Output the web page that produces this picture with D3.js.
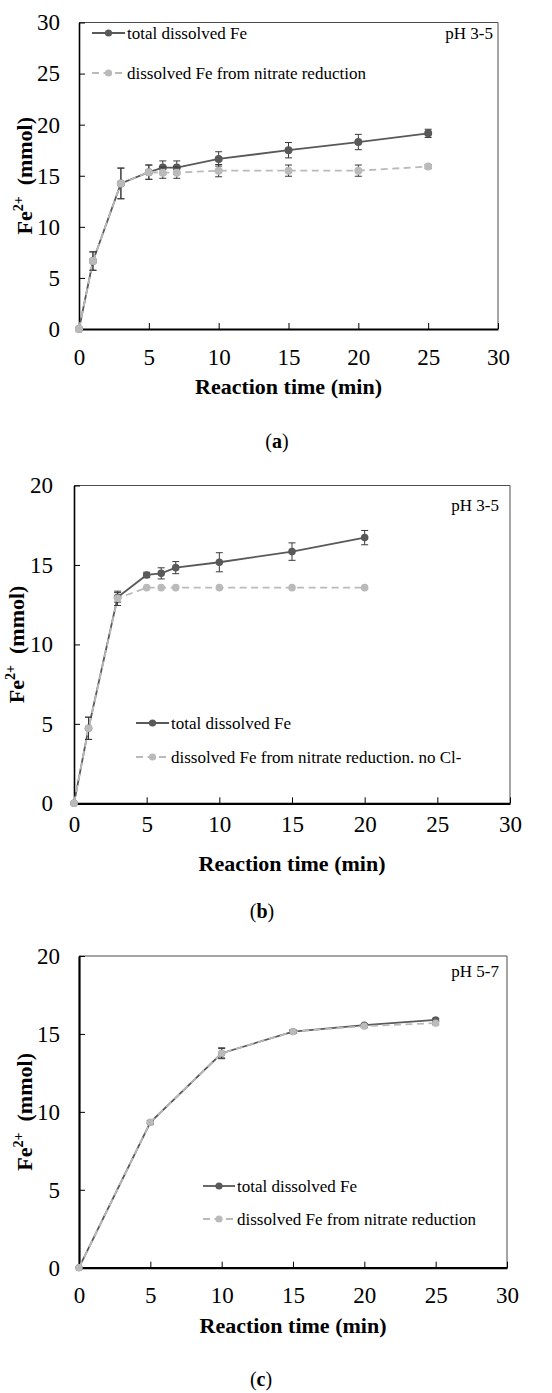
<!DOCTYPE html>
<html>
<head>
<meta charset="utf-8">
<script src="https://cdn.jsdelivr.net/npm/d3@7"></script>
<style>
html,body{margin:0;padding:0;background:#fff;}
svg, svg text{font-family:"Liberation Serif","Times New Roman",serif !important;}
</style>
</head>
<body>
<svg id="chart" width="552" height="1393"></svg>
<script>
// ---------------- data ----------------
const xTicks = [0, 5, 10, 15, 20, 25, 30];
const yTicksA = [0, 5, 10, 15, 20, 25, 30];
const yTicksBC = [0, 5, 10, 15, 20];

const timeA = [0, 1, 3, 5, 6, 7, 10, 15, 20, 25];
const totalA = [0, 6.65, 14.25, 15.35, 15.8, 15.8, 16.65, 17.5, 18.3, 19.15];
const totalErrA = [0, 0.9, 1.5, 0.7, 0.65, 0.65, 0.7, 0.75, 0.75, 0.4];
const nitrateA = [0, 6.65, 14.25, 15.35, 15.3, 15.3, 15.5, 15.5, 15.5, 15.9];
const nitrateErrA = [0, 0.9, 1.5, 0.7, 0.55, 0.55, 0.6, 0.55, 0.55, 0.2];

const timeB = [0, 1, 3, 5, 6, 7, 10, 15, 20];
const totalB = [0, 4.72, 12.96, 14.37, 14.47, 14.83, 15.17, 15.84, 16.72];
const totalErrB = [0, 0.7, 0.3, 0.17, 0.35, 0.38, 0.6, 0.55, 0.45];
const nitrateB = [0, 4.72, 12.9, 13.57, 13.57, 13.57, 13.57, 13.57, 13.57];
const nitrateErrB = [0, 0.7, 0.45, 0, 0, 0, 0, 0, 0];

const timeC = [0, 5, 10, 15, 20, 25];
const totalC = [0, 9.33, 13.76, 15.15, 15.56, 15.9];
const totalErrC = [0, 0.1, 0.35, 0.1, 0.1, 0.1];
const nitrateC = [0, 9.33, 13.76, 15.15, 15.5, 15.69];
const nitrateErrC = [0, 0.1, 0.3, 0.1, 0.1, 0.1];

const legendTotal = "total dissolved Fe";
const legendNitrate = "dissolved Fe from nitrate reduction";
const legendNitrateB = "dissolved Fe from nitrate reduction. no Cl-";
const phLabels = ["pH 3-5", "pH 3-5", "pH 5-7"];
const captionLetters = ["a", "b", "c"];
const xTitle = "Reaction time (min)";

// ---------------- layout ----------------
const panels = [
  {time: timeA, total: totalA, totalErr: totalErrA, nitrate: nitrateA, nitrateErr: nitrateErrA,
   yTicks: yTicksA, ymax: 30, left: 79, right: 498, top: 22.5, bottom: 329,
   yPad: 19, xPad: 20, xTitleY: 394, yTitleX: 32, r: 4, axisW: 1.6,
   leg: {x1: 92, x2: 125, rows: [33, 73], second: legendNitrate},
   ph: {x: 493, y: 39, t: phLabels[0]}, cap: {x: 277, y: 448, t: captionLetters[0]}},
  {time: timeB, total: totalB, totalErr: totalErrB, nitrate: nitrateB, nitrateErr: nitrateErrB,
   yTicks: yTicksBC, ymax: 20, left: 74, right: 510, top: 485.5, bottom: 803.3,
   yPad: 21, xPad: 12.5, xTitleY: 871, yTitleX: 24, r: 3.8, axisW: 1.6,
   leg: {x1: 136, x2: 169, rows: [723, 757], second: legendNitrateB},
   ph: {x: 499, y: 511, t: phLabels[1]}, cap: {x: 262, y: 918, t: captionLetters[1]}},
  {time: timeC, total: totalC, totalErr: totalErrC, nitrate: nitrateC, nitrateErr: nitrateErrC,
   yTicks: yTicksBC, ymax: 20, left: 79, right: 507, top: 956, bottom: 1267.7,
   yPad: 19, xPad: 19, xTitleY: 1333, yTitleX: 32, r: 3.6, axisW: 2.2,
   leg: {x1: 203, x2: 235, rows: [1186, 1219], second: legendNitrate},
   ph: {x: 499, y: 977, t: phLabels[2]}, cap: {x: 261, y: 1386, t: captionLetters[2]}}
];

const DARK = "#595959", LIGHT = "#bababa", ERR = "#3a3a3a";
const FONT = '"Liberation Serif", "Times New Roman", serif';
const svg = d3.select("#chart");

panels.forEach(p => {
  const x = d3.scaleLinear().domain([0, 30]).range([p.left, p.right]);
  const y = d3.scaleLinear().domain([0, p.ymax]).range([p.bottom, p.top]);
  const g = svg.append("g").style("font-family", FONT);

  // frame (top/right)
  g.append("path")
    .attr("d", `M${p.left},${p.top}H${p.right}V${p.bottom}`)
    .attr("fill", "none").attr("stroke", "#4d4d4d").attr("stroke-width", 1);

  // y axis
  const ya = g.append("g").attr("transform", `translate(${p.left},0)`)
    .call(d3.axisLeft(y).tickValues(p.yTicks).tickSizeInner(-6).tickSizeOuter(0).tickPadding(p.yPad));
  ya.attr("font-family", null).style("font-family", FONT);
  ya.select(".domain").attr("stroke", "#000").attr("stroke-width", p.axisW);
  ya.selectAll(".tick line").attr("stroke", "#000").attr("stroke-width", 1);
  ya.selectAll(".tick text").attr("font-size", 23).attr("fill", "#000").style("font-family", FONT);

  // x axis
  const xa = g.append("g").attr("transform", `translate(0,${p.bottom})`)
    .call(d3.axisBottom(x).tickValues(xTicks).tickSizeInner(-6).tickSizeOuter(0).tickPadding(p.xPad));
  xa.attr("font-family", null).style("font-family", FONT);
  xa.select(".domain").attr("stroke", "#000").attr("stroke-width", 2.2);
  xa.selectAll(".tick line").attr("stroke", "#000").attr("stroke-width", 1);
  xa.selectAll(".tick text").attr("font-size", 23).attr("fill", "#000").style("font-family", FONT);

  // axis titles
  g.append("text").attr("x", (p.left + p.right) / 2).attr("y", p.xTitleY)
    .attr("text-anchor", "middle").attr("font-size", 22).attr("font-weight", "bold")
    .style("font-family", FONT).text(xTitle);
  const yt = g.append("text")
    .attr("transform", `translate(${p.yTitleX},${(p.top + p.bottom) / 2}) rotate(-90)`)
    .attr("text-anchor", "middle").attr("font-size", 22).attr("font-weight", "bold")
    .style("font-family", FONT);
  yt.append("tspan").text("Fe");
  yt.append("tspan").attr("font-size", 14).attr("dy", -9).text("2+");
  yt.append("tspan").attr("dy", 9).text("\u00a0\u00a0(mmol)");

  // series
  const series = [
    {vals: p.total, err: p.totalErr, color: DARK, dash: null},
    {vals: p.nitrate, err: p.nitrateErr, color: LIGHT, dash: "7,4.5"}
  ];
  series.forEach(s => {
    const pts = p.time.map((t, i) => ({t, v: s.vals[i], e: s.err[i]}));
    const line = d3.line().x(d => x(d.t)).y(d => y(d.v));
    g.append("path").datum(pts).attr("d", line)
      .attr("fill", "none").attr("stroke", s.color).attr("stroke-width", 1.8)
      .attr("stroke-dasharray", s.dash);
    const eb = g.append("g").selectAll("g").data(pts.filter(d => d.e > 0)).join("g");
    eb.append("line").attr("x1", d => x(d.t)).attr("x2", d => x(d.t))
      .attr("y1", d => y(d.v - d.e)).attr("y2", d => y(d.v + d.e))
      .attr("stroke", ERR).attr("stroke-width", 1);
    eb.append("line").attr("x1", d => x(d.t) - 3.5).attr("x2", d => x(d.t) + 3.5)
      .attr("y1", d => y(d.v + d.e)).attr("y2", d => y(d.v + d.e))
      .attr("stroke", ERR).attr("stroke-width", 1);
    eb.append("line").attr("x1", d => x(d.t) - 3.5).attr("x2", d => x(d.t) + 3.5)
      .attr("y1", d => y(d.v - d.e)).attr("y2", d => y(d.v - d.e))
      .attr("stroke", ERR).attr("stroke-width", 1);
    g.append("g").selectAll("circle").data(pts).join("circle")
      .attr("cx", d => x(d.t)).attr("cy", d => y(d.v)).attr("r", p.r)
      .attr("fill", s.color);
  });

  // legend
  const legItems = [
    {label: legendTotal, color: DARK, dash: null},
    {label: p.leg.second, color: LIGHT, dash: "7,4.5"}
  ];
  legItems.forEach((it, i) => {
    const ry = p.leg.rows[i];
    g.append("line").attr("x1", p.leg.x1).attr("x2", p.leg.x2).attr("y1", ry).attr("y2", ry)
      .attr("stroke", it.color).attr("stroke-width", 1.8).attr("stroke-dasharray", it.dash);
    g.append("circle").attr("cx", (p.leg.x1 + p.leg.x2) / 2).attr("cy", ry).attr("r", 3.6)
      .attr("fill", it.color);
    g.append("text").attr("x", p.leg.x2 + 2).attr("y", ry).attr("dy", "0.34em")
      .attr("font-size", 17).attr("fill", "#000").style("font-family", FONT).text(it.label);
  });

  // pH label
  g.append("text").attr("x", p.ph.x).attr("y", p.ph.y).attr("text-anchor", "end")
    .attr("font-size", 17).style("font-family", FONT).text(p.ph.t);

  // caption
  const cap = g.append("text").attr("x", p.cap.x).attr("y", p.cap.y).attr("text-anchor", "middle")
    .attr("font-size", 20).style("font-family", FONT);
  cap.append("tspan").text("(");
  cap.append("tspan").attr("font-weight", "bold").text(p.cap.t);
  cap.append("tspan").text(")");
});
</script>
</body>
</html>
